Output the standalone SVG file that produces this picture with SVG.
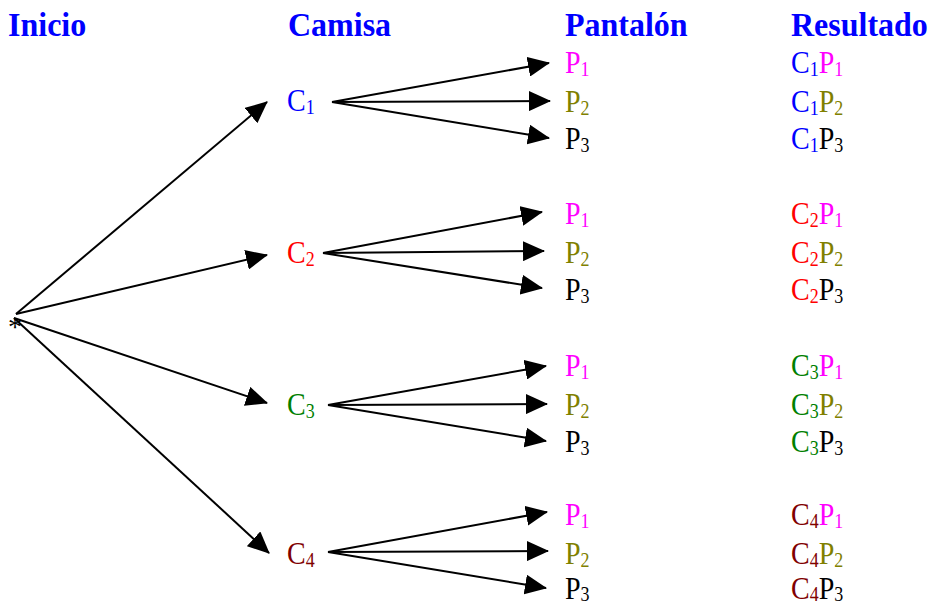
<svg xmlns="http://www.w3.org/2000/svg" width="930" height="606" viewBox="0 0 930 606">
<style>
.h{font-family:"Liberation Serif","Times New Roman",serif;font-weight:bold;font-size:32px;fill:#0000FF}
.t{font-family:"Liberation Serif","Times New Roman",serif;font-size:28px}
.s{font-size:18px}
.b{fill:#0000FF}.r{fill:#FF0000}.g{fill:#008000}.m{fill:#800000}
.p1{fill:#FF00FF}.p2{fill:#808000}.p3{fill:#000000}
.e{stroke:#000;stroke-width:2;fill:none;marker-end:url(#ah)}
</style>
<defs>
<marker id="ah" viewBox="0 0 22 20" refX="21" refY="10" markerWidth="22" markerHeight="20" markerUnits="userSpaceOnUse" orient="auto">
<path d="M0,0 L22,10 L0,20 z" fill="#000"/>
</marker>
</defs>
<rect width="930" height="606" fill="#fff"/>
<g id="headers">
<text class="h" transform="translate(8,36) scale(1,1.05)">Inicio</text>
<text class="h" transform="translate(288,36) scale(1,1.05)">Camisa</text>
<text class="h" transform="translate(565,36) scale(1,1.05)">Pantalón</text>
<text class="h" transform="translate(791,36) scale(1,1.05)">Resultado</text>
</g>
<g id="connectors">
<line class="e" x1="16" y1="314" x2="267" y2="102"/>
<line class="e" x1="16" y1="314" x2="267" y2="255"/>
<line class="e" x1="14" y1="318" x2="267" y2="403"/>
<line class="e" x1="14" y1="318" x2="269" y2="553"/>
<line class="e" x1="332" y1="102" x2="549" y2="63"/>
<line class="e" x1="332" y1="102" x2="550" y2="101"/>
<line class="e" x1="332" y1="102" x2="549" y2="138"/>
<line class="e" x1="323" y1="253" x2="542" y2="212"/>
<line class="e" x1="323" y1="253" x2="544" y2="251"/>
<line class="e" x1="323" y1="253" x2="542" y2="288"/>
<line class="e" x1="328" y1="405" x2="546" y2="366"/>
<line class="e" x1="328" y1="405" x2="547" y2="404"/>
<line class="e" x1="328" y1="405" x2="546" y2="441"/>
<line class="e" x1="328" y1="552" x2="547" y2="512"/>
<line class="e" x1="328" y1="552" x2="548" y2="551"/>
<line class="e" x1="328" y1="552" x2="546" y2="588"/>
</g>
<g id="inicio">
<text class="t" x="8" y="336" font-size="22">*</text>
</g>
<g id="c1"><text class="t b" transform="translate(287,111) scale(1,1.13)">C<tspan class="s" dy="3">1</tspan></text></g>
<g id="c2"><text class="t r" transform="translate(287,263) scale(1,1.13)">C<tspan class="s" dy="3">2</tspan></text></g>
<g id="c3"><text class="t g" transform="translate(287,415) scale(1,1.13)">C<tspan class="s" dy="3">3</tspan></text></g>
<g id="c4"><text class="t m" transform="translate(287,564) scale(1,1.13)">C<tspan class="s" dy="3">4</tspan></text></g>

<g id="p-g1">
<text class="t p1" transform="translate(565,73) scale(1,1.13)">P<tspan class="s" dy="3">1</tspan></text>
<text class="t p2" transform="translate(565,112) scale(1,1.13)">P<tspan class="s" dy="3">2</tspan></text>
<text class="t p3" transform="translate(565,149) scale(1,1.13)">P<tspan class="s" dy="3">3</tspan></text>
</g>
<g id="p-g2">
<text class="t p1" transform="translate(565,224) scale(1,1.13)">P<tspan class="s" dy="3">1</tspan></text>
<text class="t p2" transform="translate(565,263) scale(1,1.13)">P<tspan class="s" dy="3">2</tspan></text>
<text class="t p3" transform="translate(565,300) scale(1,1.13)">P<tspan class="s" dy="3">3</tspan></text>
</g>
<g id="p-g3">
<text class="t p1" transform="translate(565,376) scale(1,1.13)">P<tspan class="s" dy="3">1</tspan></text>
<text class="t p2" transform="translate(565,415) scale(1,1.13)">P<tspan class="s" dy="3">2</tspan></text>
<text class="t p3" transform="translate(565,452) scale(1,1.13)">P<tspan class="s" dy="3">3</tspan></text>
</g>
<g id="p-g4">
<text class="t p1" transform="translate(565,525) scale(1,1.13)">P<tspan class="s" dy="3">1</tspan></text>
<text class="t p2" transform="translate(565,564) scale(1,1.13)">P<tspan class="s" dy="3">2</tspan></text>
<text class="t p3" transform="translate(565,599) scale(1,1.13)">P<tspan class="s" dy="2">3</tspan></text>
</g>

<g id="r-g1">
<text class="t" transform="translate(791,73) scale(1,1.13)"><tspan class="b">C</tspan><tspan class="s b" dy="3">1</tspan><tspan class="p1" dy="-3">P</tspan><tspan class="s p1" dy="3">1</tspan></text>
<text class="t" transform="translate(791,112) scale(1,1.13)"><tspan class="b">C</tspan><tspan class="s b" dy="3">1</tspan><tspan class="p2" dy="-3">P</tspan><tspan class="s p2" dy="3">2</tspan></text>
<text class="t" transform="translate(791,149) scale(1,1.13)"><tspan class="b">C</tspan><tspan class="s b" dy="3">1</tspan><tspan class="p3" dy="-3">P</tspan><tspan class="s p3" dy="3">3</tspan></text>
</g>
<g id="r-g2">
<text class="t" transform="translate(791,224) scale(1,1.13)"><tspan class="r">C</tspan><tspan class="s r" dy="3">2</tspan><tspan class="p1" dy="-3">P</tspan><tspan class="s p1" dy="3">1</tspan></text>
<text class="t" transform="translate(791,263) scale(1,1.13)"><tspan class="r">C</tspan><tspan class="s r" dy="3">2</tspan><tspan class="p2" dy="-3">P</tspan><tspan class="s p2" dy="3">2</tspan></text>
<text class="t" transform="translate(791,300) scale(1,1.13)"><tspan class="r">C</tspan><tspan class="s r" dy="3">2</tspan><tspan class="p3" dy="-3">P</tspan><tspan class="s p3" dy="3">3</tspan></text>
</g>
<g id="r-g3">
<text class="t" transform="translate(791,376) scale(1,1.13)"><tspan class="g">C</tspan><tspan class="s g" dy="3">3</tspan><tspan class="p1" dy="-3">P</tspan><tspan class="s p1" dy="3">1</tspan></text>
<text class="t" transform="translate(791,415) scale(1,1.13)"><tspan class="g">C</tspan><tspan class="s g" dy="3">3</tspan><tspan class="p2" dy="-3">P</tspan><tspan class="s p2" dy="3">2</tspan></text>
<text class="t" transform="translate(791,452) scale(1,1.13)"><tspan class="g">C</tspan><tspan class="s g" dy="3">3</tspan><tspan class="p3" dy="-3">P</tspan><tspan class="s p3" dy="3">3</tspan></text>
</g>
<g id="r-g4">
<text class="t" transform="translate(791,525) scale(1,1.13)"><tspan class="m">C</tspan><tspan class="s m" dy="3">4</tspan><tspan class="p1" dy="-3">P</tspan><tspan class="s p1" dy="3">1</tspan></text>
<text class="t" transform="translate(791,564) scale(1,1.13)"><tspan class="m">C</tspan><tspan class="s m" dy="3">4</tspan><tspan class="p2" dy="-3">P</tspan><tspan class="s p2" dy="3">2</tspan></text>
<text class="t" transform="translate(791,599) scale(1,1.13)"><tspan class="m">C</tspan><tspan class="s m" dy="2">4</tspan><tspan class="p3" dy="-2">P</tspan><tspan class="s p3" dy="2">3</tspan></text>
</g>
</svg>
